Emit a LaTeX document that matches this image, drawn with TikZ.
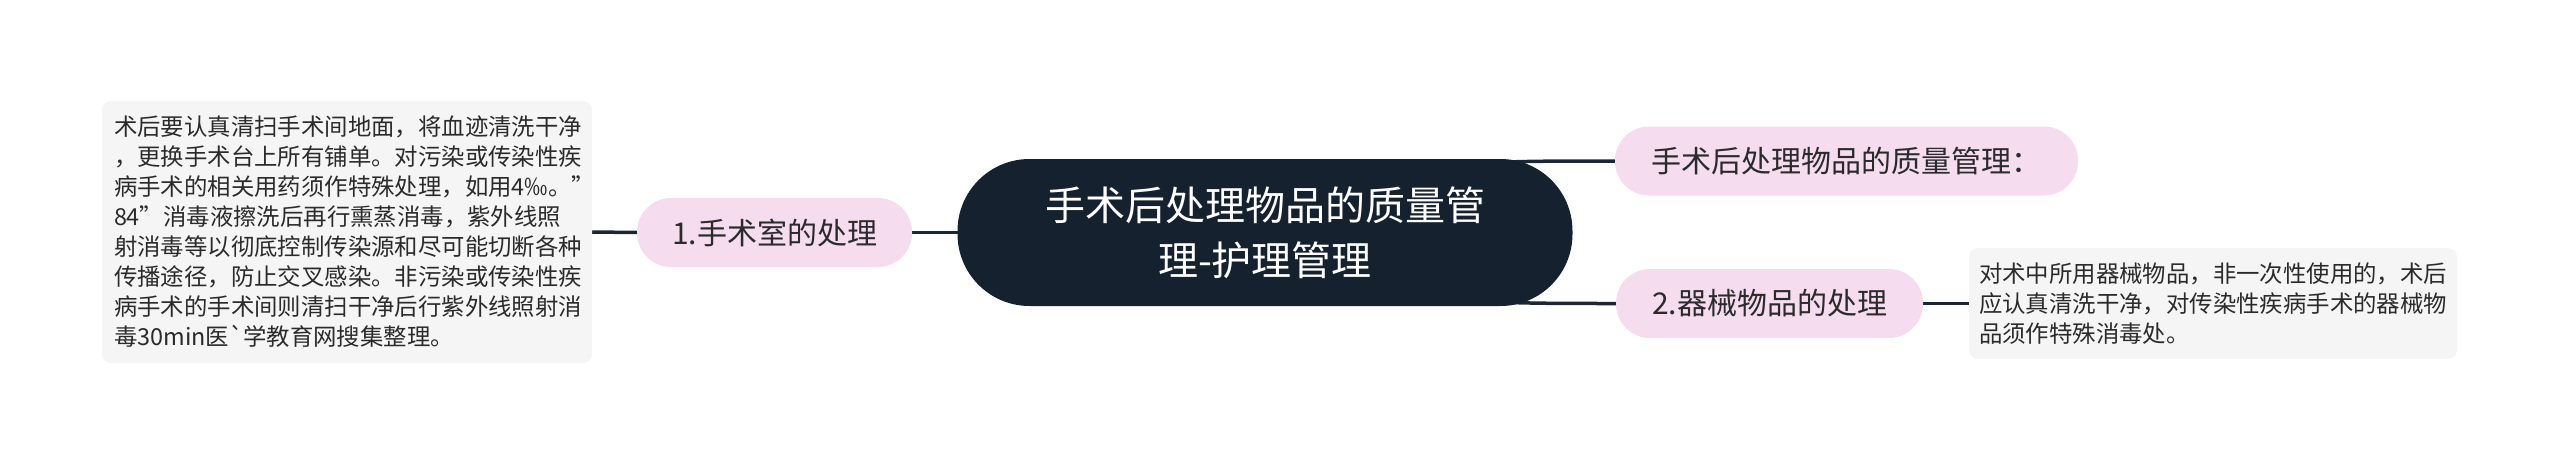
\documentclass[tikz,border=0pt]{standalone}
\usepackage{fontspec}
\newfontfamily\cjk{Noto Sans CJK SC}[Ligatures=TeXOff]
\usetikzlibrary{backgrounds}
\definecolor{navy}{HTML}{15212F}
\definecolor{pinkbg}{HTML}{F5DCEF}
\definecolor{graybg}{HTML}{F5F5F5}
\definecolor{txt}{HTML}{2B2B2B}
\definecolor{linec}{HTML}{1B2636}
\begin{document}
\begin{tikzpicture}[x=1pt,y=-1pt,
  every node/.style={inner sep=0pt, outer sep=0pt},
  root/.style={fill=navy, text=white, rounded corners=72pt, minimum width=615pt, minimum height=147pt, align=center, font=\cjk\fontsize{40}{55}\selectfont},
  topic/.style={fill=pinkbg, text=txt, minimum height=69pt, rounded corners=34pt, font=\cjk\fontsize{30}{36}\selectfont},
  note/.style={fill=graybg, text=txt, rounded corners=9pt, align=left, font=\cjk\fontsize{23.4}{30}\selectfont},
  link/.style={draw=linec, line width=3.5pt}
]
\useasboundingbox (0,0) rectangle (2560,466);

\node[root] (C) at (1265,232.5) {手术后处理物品的质量管\\理-护理管理};
\node[topic, minimum width=275pt] (n1) at (774.5,232.5) {1.手术室的处理};
\node[topic, minimum width=463pt] (t1) at (1846.5,161) {手术后处理物品的质量管理：};
\node[topic, minimum width=307pt] (t2) at (1769.5,303.5) {2.器械物品的处理};
\node[note, minimum width=490pt, minimum height=262pt, text width=466pt] (b1) at (347,232) {术后要认真清扫手术间地面，将血迹清洗干净\\，更换手术台上所有铺单。对污染或传染性疾\\病手术的相关用药须作特殊处理，如用4‰。”\\84”消毒液擦洗后再行熏蒸消毒，紫外线照\\射消毒等以彻底控制传染源和尽可能切断各种\\传播途径，防止交叉感染。非污染或传染性疾\\病手术的手术间则清扫干净后行紫外线照射消\\毒30min医`学教育网搜集整理。};
\node[note, minimum width=488pt, minimum height=111pt, text width=468pt] (b2) at (2213,303.5) {对术中所用器械物品，非一次性使用的，术后\\应认真清洗干净，对传染性疾病手术的器械物\\品须作特殊消毒处。};

\begin{scope}[on background layer]
\draw[link] (b1.east) -- (n1.west);
\draw[link] (n1.east) -- (C.west);
\draw[link] (C.center) .. controls +(115,-72) and +(-166,0) .. (t1.west);
\draw[link] (C.center) .. controls +(115,71) and +(-166,0) .. (t2.west);
\draw[link] (t2.east) -- (b2.west);
\end{scope}
\end{tikzpicture}
\end{document}
